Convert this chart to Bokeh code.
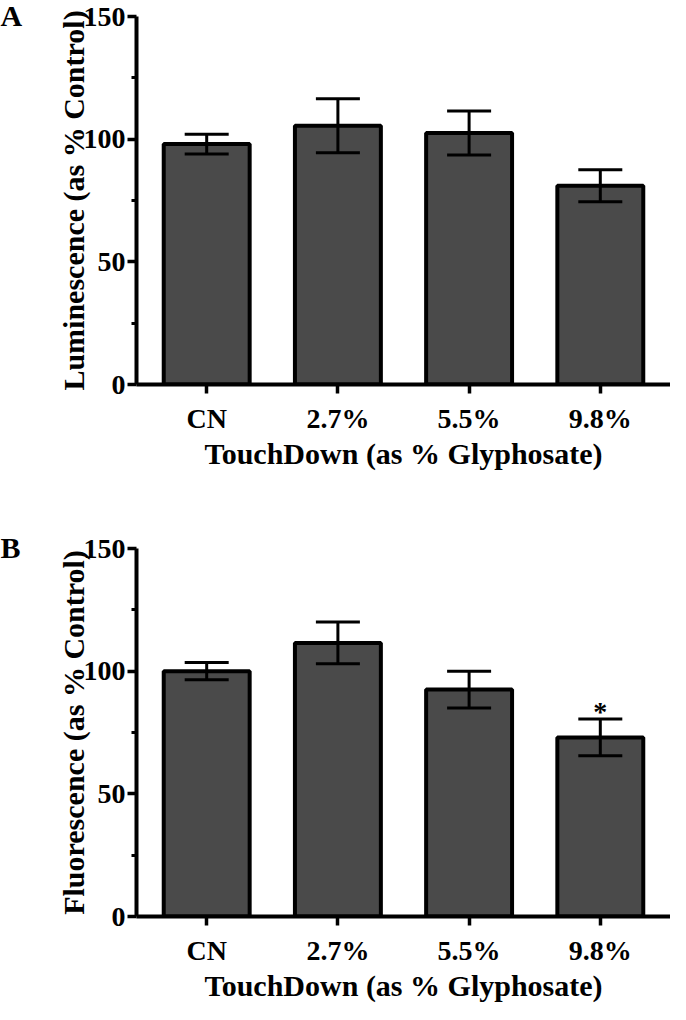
from bokeh.plotting import figure
from bokeh.models import (ColumnDataSource, Range1d, FixedTicker, Whisker, TeeHead, Title, LabelSet)
from bokeh.layouts import column
from bokeh.embed import file_html
from bokeh.resources import INLINE

# ---- data ----
categories = ["CN", "2.7%", "5.5%", "9.8%"]
lum_mean = [98.0, 105.5, 102.5, 81.0]
lum_err = [4.0, 11.0, 9.0, 6.5]
flu_mean = [100.0, 111.5, 92.5, 73.0]
flu_err = [3.5, 8.5, 7.5, 7.5]
flu_sig = ["", "", "", "*"]
y_ticks = [0, 50, 100, 150]
y_minor = [25, 75, 125]
x_title = "TouchDown (as % Glyphosate)"

FONT = "Liberation Serif"
BAR_FILL = "#4a4a4a"


def make_panel(letter, ylabel, means, errs, sig, height, top, bottom, letter_standoff):
    xs = list(range(len(categories)))
    src = ColumnDataSource(dict(
        x=xs, top=means,
        upper=[m + e for m, e in zip(means, errs)],
        lower=[m - e for m, e in zip(means, errs)],
        sig=sig if sig else [""] * len(xs),
    ))
    p = figure(width=670, height=height, output_backend="svg", toolbar_location=None,
               x_range=Range1d(-0.535, len(xs) - 1 + 0.535), y_range=Range1d(0, 150),
               min_border_left=136, min_border_right=0, min_border_top=top,
               min_border_bottom=bottom)
    p.outline_line_color = None
    p.xgrid.grid_line_color = None
    p.ygrid.grid_line_color = None
    p.background_fill_color = "white"

    p.vbar(x="x", top="top", bottom=0, width=0.655, source=src,
           fill_color=BAR_FILL, line_color="black", line_width=4)

    w = Whisker(source=src, base="x", upper="upper", lower="lower",
                line_color="black", line_width=3, level="overlay",
                upper_head=TeeHead(size=44, line_color="black", line_width=3),
                lower_head=TeeHead(size=44, line_color="black", line_width=3))
    p.add_layout(w)

    if sig:
        ls = LabelSet(x="x", y="upper", text="sig", source=src, text_align="center",
                      text_baseline="alphabetic", text_font=FONT, text_font_size="28px",
                      text_font_style="bold", text_color="black", y_offset=-2)
        p.add_layout(ls)

    # axes
    p.xaxis.ticker = FixedTicker(ticks=xs, minor_ticks=[])
    p.xaxis.major_label_overrides = {i: c for i, c in enumerate(categories)}
    p.yaxis.ticker = FixedTicker(ticks=y_ticks, minor_ticks=y_minor)
    for ax in (p.xaxis[0], p.yaxis[0]):
        ax.axis_line_width = 4
        ax.axis_line_color = "black"
        ax.major_tick_line_width = 3.5
        ax.major_tick_line_color = "black"
        ax.major_tick_in = 0
        ax.major_tick_out = 9
        ax.minor_tick_in = 0
        ax.minor_tick_out = 5
        ax.minor_tick_line_width = 3
        ax.minor_tick_line_color = "black"
        ax.major_label_text_font = FONT
        ax.major_label_text_font_style = "bold"
        ax.major_label_text_font_size = "28px"
        ax.major_label_text_color = "black"
        ax.axis_label_text_font = FONT
        ax.axis_label_text_font_style = "bold"
        ax.axis_label_text_font_size = "30px"
        ax.axis_label_text_color = "black"
    p.xaxis.major_label_standoff = 9
    p.xaxis.axis_label_standoff = 0
    p.yaxis.major_label_standoff = 2
    p.yaxis.axis_label_standoff = -9
    p.xaxis.axis_label = x_title
    p.yaxis.axis_label = ylabel

    p.add_layout(Title(text=letter, align="left", offset=-136, standoff=letter_standoff,
                       text_font=FONT, text_font_style="bold", text_font_size="30px",
                       text_color="black"), "above")
    return p


pa = make_panel("A", "Luminescence (as % Control)", lum_mean, lum_err, None,
                height=514, top=16, bottom=130, letter_standoff=-31)
pb = make_panel("B", "Fluorescence (as % Control)", flu_mean, flu_err, flu_sig,
                height=490, top=34, bottom=84, letter_standoff=-31)

layout = column(pa, pb, spacing=0)
open("out.html", "w").write(file_html(layout, INLINE))
